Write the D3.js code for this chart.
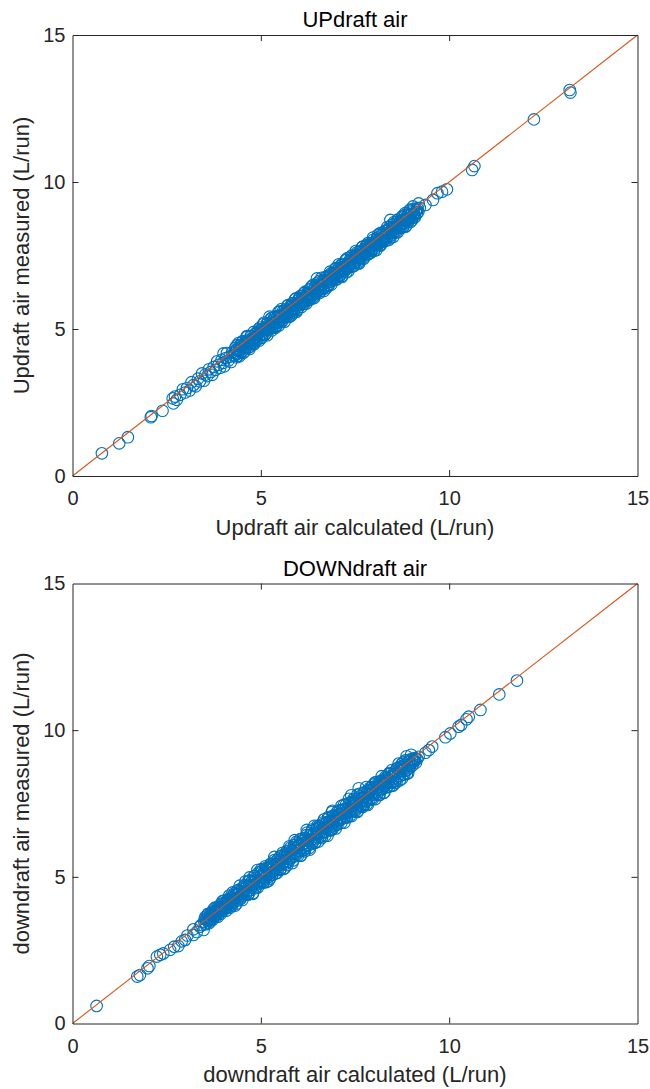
<!DOCTYPE html>
<html>
<head>
<meta charset="utf-8">
<script src="https://cdn.jsdelivr.net/npm/d3@7"></script>
<style>
  body { margin: 0; background: #fff; }
  text { font-family: "Liberation Sans", Arial, sans-serif; }
</style>
</head>
<body>
<div id="chart"></div>
<script>
// axis setup shared by both panels
var axisDomain = [0, 15];
var axisTicks = [0, 5, 10, 15];
var panelTitles = ["UPdraft air", "DOWNdraft air"];
var xLabels = ["Updraft air calculated (L/run)", "downdraft air calculated (L/run)"];
var yLabels = ["Updraft air measured (L/run)", "downdraft air measured (L/run)"];

// [calculated, measured] per run
var upPoints = [
  [0.78,0.77],[1.24,1.11],[1.47,1.32],[2.08,2.00],[2.10,2.04],[2.39,2.22],[2.66,2.64],[2.68,2.47],[2.72,2.70],[2.77,2.59],
  [2.86,2.76],[2.93,2.95],[2.99,2.84],[3.04,2.99],[3.11,2.91],[3.16,3.19],[3.21,3.09],[3.27,3.05],[3.33,3.31],[3.38,3.22],
  [3.44,3.49],[3.49,3.24],[3.53,3.45],[3.58,3.40],[3.62,3.63],[3.67,3.54],[3.71,3.44],[3.75,3.71],[3.80,3.61],[3.84,3.90],
  [3.88,3.78],[3.92,3.68],[3.96,3.95],[4.00,3.85],[4.03,3.73],[4.07,4.01],[4.10,4.18],[4.14,3.93],[4.17,4.06],[4.21,3.88],
  [4.24,4.21],[4.27,4.10],
  [4.30,4.18],[4.32,4.36],[4.35,4.04],[4.36,4.29],[4.38,4.16],[4.41,4.52],[4.43,4.07],[4.44,4.28],[4.47,4.46],[4.49,4.22],
  [4.51,4.42],[4.52,4.59],[4.55,4.36],[4.57,4.24],[4.58,4.54],[4.61,4.37],[4.63,4.76],[4.64,4.50],[4.67,4.38],[4.69,4.63],
  [4.70,4.32],[4.73,4.75],[4.75,4.58],[4.76,4.51],[4.79,4.69],[4.81,4.90],[4.82,4.48],[4.85,4.65],[4.87,4.84],[4.88,4.60],
  [4.90,4.74],[4.92,4.91],[4.95,4.68],[4.96,4.87],[4.98,5.05],[5.01,4.82],[5.03,4.70],[5.04,5.00],[5.07,4.83],[5.09,5.22],
  [5.11,4.97],[5.12,4.83],[5.15,5.09],[5.17,4.79],[5.18,5.20],[5.21,5.04],[5.23,4.98],[5.24,5.14],[5.27,5.36],[5.29,4.95],
  [5.30,5.10],[5.33,5.30],[5.35,5.07],[5.36,5.24],[5.39,5.43],[5.41,5.10],[5.42,5.35],[5.45,5.23],[5.47,5.58],[5.48,5.12],
  [5.50,5.46],[5.52,5.28],[5.55,5.68],[5.56,5.42],[5.58,5.29],[5.61,5.55],[5.63,5.25],[5.64,5.66],[5.67,5.50],[5.69,5.44],
  [5.71,5.61],[5.72,5.81],[5.75,5.41],[5.77,5.57],[5.78,5.75],[5.81,5.53],[5.83,5.71],[5.84,5.88],[5.87,5.56],[5.89,5.82],
  [5.90,5.68],[5.93,6.04],[5.95,5.59],[5.96,5.80],[5.99,5.98],[6.01,5.74],[6.02,5.93],[6.05,6.12],[6.07,5.88],[6.08,5.75],
  [6.10,6.12],[6.12,5.95],[6.15,5.90],[6.16,6.06],[6.18,6.27],[6.21,5.87],[6.23,6.03],[6.24,6.21],[6.27,5.99],[6.29,6.17],
  [6.31,6.35],[6.32,6.01],[6.35,6.28],[6.37,6.15],[6.38,6.49],[6.41,6.05],[6.43,6.27],[6.44,6.43],[6.47,6.20],[6.49,6.40],
  [6.50,6.57],[6.53,6.34],[6.55,6.22],[6.56,6.52],[6.59,6.35],[6.61,6.74],[6.62,6.48],[6.65,6.36],[6.67,6.61],[6.68,6.30],
  [6.70,6.67],[6.72,6.44],[6.75,6.63],[6.76,6.80],[6.78,6.47],[6.81,6.74],[6.83,6.61],[6.84,6.95],[6.87,6.51],[6.89,6.73],
  [6.91,6.90],[6.92,6.65],[6.95,6.86],[6.97,7.04],[6.98,6.79],[7.01,6.68],[7.03,6.99],[7.04,6.80],[7.07,7.20],[7.09,6.95],
  [7.10,6.81],[7.13,7.07],[7.15,6.77],[7.16,7.18],[7.19,7.02],[7.21,6.96],[7.22,7.12],[7.25,7.34],[7.27,6.93],[7.28,7.08],
  [7.30,7.41],[7.32,6.96],[7.35,7.19],[7.36,7.35],[7.38,7.11],[7.41,7.32],[7.43,7.50],[7.44,7.25],[7.47,7.14],[7.49,7.45],
  [7.51,7.27],[7.52,7.65],[7.55,7.41],[7.57,7.28],[7.58,7.52],[7.61,7.23],[7.63,7.65],[7.64,7.47],[7.67,7.42],[7.69,7.59],
  [7.70,7.79],[7.73,7.39],[7.75,7.55],[7.76,7.73],[7.79,7.51],[7.81,7.69],[7.82,7.86],[7.85,7.54],[7.87,7.80],[7.88,7.66],
  [7.90,7.71],[7.92,7.59],[7.95,7.91],[7.96,7.72],[7.98,8.11],[8.01,7.87],[8.03,7.74],[8.04,7.98],[8.07,7.69],[8.09,8.11],
  [8.11,7.94],[8.12,7.87],[8.15,8.05],[8.17,8.26],[8.18,7.84],[8.21,8.01],[8.23,8.20],[8.24,7.96],[8.27,8.15],[8.29,8.33],
  [8.31,8.00],[8.33,8.26],[8.35,8.13],[8.36,8.47],[8.39,8.03],[8.41,8.25],[8.42,8.41],[8.45,8.18],[8.47,8.38],[8.48,8.55],
  [8.50,8.44],[8.52,8.14],[8.55,8.57],[8.56,8.39],[8.58,8.33],[8.61,8.51],[8.63,8.72],[8.64,8.30],[8.67,8.47],[8.69,8.66],
  [8.71,8.43],[8.72,8.60],[8.75,8.79],[8.77,8.46],[8.78,8.71],[8.81,8.59],[8.83,8.94],[8.84,8.48],[8.87,8.71],[8.89,8.88],
  [8.91,8.64],[8.92,8.83],[8.95,9.02],[8.97,8.78],[8.98,8.65],[9.01,8.97],[9.03,8.79],[9.04,9.17],[9.07,8.93],[9.09,8.80],
  [9.14,9.05],[9.18,8.98],[9.22,9.12],[4.01,4.17],[5.23,5.42],[6.49,6.72],[8.44,8.71],
  [4.31,4.10],[4.34,4.29],[4.36,4.44],[4.39,4.09],[4.41,4.27],[4.44,4.44],[4.46,4.20],[4.49,4.38],[4.51,4.56],[4.54,4.19],
  [4.56,4.38],[4.59,4.57],[4.61,4.37],[4.64,4.74],[4.66,4.58],[4.69,4.38],[4.71,4.55],[4.74,4.77],[4.76,4.54],[4.79,4.67],
  [4.81,4.51],[4.84,4.70],[4.86,4.86],[4.89,4.63],[4.91,4.80],[4.94,4.99],[4.96,4.61],[4.99,4.81],[5.01,4.99],[5.04,4.80],
  [5.06,5.16],[5.09,5.01],[5.11,4.80],[5.14,4.98],[5.16,5.19],[5.19,4.97],[5.21,5.09],[5.24,5.03],[5.26,5.21],[5.29,5.37],
  [5.31,5.05],[5.34,5.23],[5.36,5.41],[5.39,5.04],[5.41,5.23],[5.44,5.42],[5.46,5.22],[5.49,5.59],[5.51,5.43],[5.54,5.23],
  [5.56,5.40],[5.59,5.62],[5.61,5.39],[5.64,5.52],[5.66,5.45],[5.69,5.64],[5.71,5.79],[5.74,5.44],[5.76,5.62],[5.79,5.79],
  [5.81,5.46],[5.84,5.66],[5.86,5.84],[5.89,5.65],[5.91,6.01],[5.94,5.86],[5.96,5.65],[5.99,5.83],[6.01,6.04],[6.04,5.82],
  [6.06,5.94],[6.09,5.88],[6.11,6.06],[6.14,6.22],[6.16,5.86],[6.19,6.05],[6.21,6.21],[6.24,5.98],[6.26,6.15],[6.29,6.34],
  [6.31,6.07],[6.34,6.44],[6.36,6.28],[6.39,6.08],[6.41,6.25],[6.44,6.47],[6.46,6.24],[6.49,6.37],[6.51,6.30],[6.54,6.49],
  [6.56,6.64],[6.59,6.29],[6.61,6.47],[6.64,6.64],[6.66,6.40],[6.69,6.58],[6.71,6.76],[6.74,6.39],[6.76,6.58],[6.79,6.77],
  [6.81,6.50],[6.84,6.68],[6.86,6.89],[6.89,6.67],[6.91,6.79],[6.94,6.73],[6.96,6.91],[6.99,7.07],[7.01,6.71],[7.04,6.90],
  [7.06,7.06],[7.09,6.83],[7.11,7.00],[7.14,7.19],[7.16,6.81],[7.19,7.01],[7.21,7.19],[7.24,7.00],[7.26,7.36],[7.29,7.21],
  [7.31,7.09],[7.34,7.22],[7.36,7.15],[7.39,7.34],[7.41,7.49],[7.44,7.14],[7.46,7.32],[7.49,7.49],[7.51,7.25],[7.54,7.43],
  [7.56,7.61],[7.59,7.24],[7.61,7.43],[7.64,7.62],[7.66,7.42],[7.69,7.79],[7.71,7.63],[7.74,7.43],[7.76,7.60],[7.79,7.82],
  [7.81,7.76],[7.84,7.92],[7.86,7.56],[7.89,7.75],[7.91,7.91],[7.94,7.68],[7.96,7.85],[7.99,8.04],[8.01,7.66],[8.04,7.86],
  [8.06,8.04],[8.09,7.85],[8.11,8.21],[8.14,8.06],[8.16,7.85],[8.19,8.03],[8.21,8.24],[8.24,8.02],[8.26,8.14],[8.29,8.08],
  [8.31,8.17],[8.34,8.34],[8.36,8.10],[8.39,8.28],[8.41,8.46],[8.44,8.09],[8.46,8.28],[8.49,8.47],[8.51,8.27],[8.54,8.64],
  [8.56,8.48],[8.59,8.28],[8.61,8.45],[8.64,8.67],[8.66,8.44],[8.69,8.57],[8.71,8.50],[8.74,8.69],[8.76,8.84],[8.79,8.49],
  [8.81,8.70],[8.84,8.89],[8.86,8.51],[8.89,8.71],[8.91,8.89],[8.94,8.70],[8.96,9.06],[8.99,8.91],[9.01,8.70],[9.04,8.88],
  [9.06,9.09],[9.09,8.87],[9.11,8.99],[9.14,8.93],[9.16,9.11],[9.19,9.27],
  [9.37,9.22],[9.57,9.39],[9.69,9.62],[9.81,9.67],[9.94,9.75],[10.61,10.41],[10.67,10.54],[12.25,12.13],[13.20,13.13],[13.22,13.04]
];

var downPoints = [
  [0.64,0.60],[1.72,1.60],[1.79,1.65],[1.99,1.88],[2.04,1.96],[2.24,2.28],[2.33,2.34],[2.41,2.39],[2.59,2.51],[2.70,2.62],
  [2.81,2.64],[2.90,2.80],[2.99,2.85],[3.05,3.00],[3.21,3.02],[3.21,3.21],[3.30,3.12],[3.38,3.30],[3.42,3.36],[3.48,3.19],
  [3.50,3.47],[3.53,3.64],[3.54,3.38],[3.56,3.60],[3.59,3.50],[3.60,3.74],[3.62,3.42],[3.65,3.60],[3.66,3.73],[3.68,3.55],
  [3.71,3.72],[3.72,3.54],[3.74,3.83],[3.77,3.70],[3.78,3.95],[3.80,3.69],[3.83,3.82],[3.84,3.89],[3.86,3.64],[3.89,3.85],
  [3.90,4.02],[3.92,3.78],[3.95,3.97],[3.96,3.88],[3.98,4.17],[4.01,3.84],[4.02,3.96],[4.04,4.12],[4.07,3.95],[4.08,4.11],
  [4.10,4.03],[4.13,4.23],[4.14,3.97],[4.16,4.17],[4.19,3.95],[4.20,4.32],[4.22,4.12],[4.25,4.47],[4.26,4.12],[4.28,4.26],
  [4.31,4.38],[4.32,4.02],[4.34,4.28],[4.37,4.53],[4.38,4.19],[4.40,4.42],[4.43,4.32],[4.44,4.70],[4.46,4.24],[4.49,4.41],
  [4.50,4.61],[4.52,4.36],[4.55,4.59],[4.56,4.52],[4.58,4.72],[4.61,4.40],[4.62,4.67],[4.64,4.52],[4.67,4.86],[4.68,4.42],
  [4.70,4.98],[4.73,4.55],[4.74,4.72],[4.76,4.85],[4.79,4.42],[4.80,4.73],[4.82,5.02],[4.85,4.61],[4.86,4.89],[4.88,4.74],
  [4.91,5.23],[4.92,4.64],[4.94,4.84],[4.97,5.11],[4.98,4.78],[5.00,5.05],[5.03,4.98],[5.04,5.22],[5.06,4.80],[5.09,5.15],
  [5.10,4.95],[5.12,5.36],[5.15,4.82],[5.16,5.07],[5.18,5.30],[5.21,5.00],[5.22,5.23],[5.24,4.94],[5.27,5.42],[5.28,5.16],
  [5.30,5.06],[5.33,5.36],[5.34,5.20],[5.36,5.68],[5.39,5.11],[5.40,5.30],[5.42,5.56],[5.45,5.25],[5.46,5.51],[5.48,5.43],
  [5.51,5.69],[5.52,5.26],[5.54,5.60],[5.57,5.42],[5.58,5.82],[5.60,5.27],[5.63,5.54],[5.64,5.76],[5.66,5.45],[5.69,5.70],
  [5.70,5.40],[5.72,5.87],[5.75,5.63],[5.76,6.04],[5.78,5.60],[5.81,5.79],[5.82,5.91],[5.84,5.47],[5.87,5.80],[5.88,6.08],
  [5.90,5.70],[5.93,5.98],[5.94,5.89],[5.96,6.14],[5.99,5.73],[6.00,6.06],[6.02,5.87],[6.05,6.29],[6.06,5.73],[6.08,5.99],
  [6.11,6.23],[6.12,5.91],[6.14,6.15],[6.17,5.87],[6.18,6.33],[6.20,6.08],[6.23,6.51],[6.24,6.06],[6.26,6.24],[6.29,6.38],
  [6.30,5.93],[6.32,6.25],[6.35,6.55],[6.36,6.12],[6.38,6.41],[6.41,6.27],[6.42,6.74],[6.44,6.16],[6.47,6.37],[6.48,6.62],
  [6.50,6.74],[6.53,6.20],[6.54,6.45],[6.56,6.68],[6.59,6.38],[6.60,6.61],[6.62,6.32],[6.65,6.80],[6.66,6.54],[6.68,6.96],
  [6.71,6.53],[6.72,6.70],[6.74,6.83],[6.77,6.40],[6.78,6.71],[6.80,7.00],[6.83,6.59],[6.84,6.87],[6.86,6.72],[6.89,7.21],
  [6.90,6.62],[6.92,6.82],[6.95,7.09],[6.96,6.76],[6.98,7.03],[7.01,6.96],[7.02,7.20],[7.04,6.78],[7.07,7.13],[7.08,6.93],
  [7.10,7.25],[7.13,7.01],[7.14,7.42],[7.16,6.98],[7.19,7.17],[7.20,7.29],[7.22,6.85],[7.25,7.18],[7.26,7.46],[7.28,7.04],
  [7.31,7.34],[7.32,7.18],[7.34,7.66],[7.37,7.09],[7.38,7.28],[7.40,7.54],[7.43,7.23],[7.44,7.49],[7.46,7.41],[7.49,7.67],
  [7.50,7.24],[7.52,7.58],[7.55,7.40],[7.56,7.80],[7.58,7.25],[7.61,7.52],[7.62,7.74],[7.64,7.43],[7.67,7.68],[7.68,7.38],
  [7.70,7.57],[7.73,7.87],[7.74,7.44],[7.76,7.73],[7.79,7.59],[7.80,8.06],[7.82,7.48],[7.85,7.69],[7.86,7.94],[7.88,7.62],
  [7.91,7.90],[7.92,7.81],[7.94,8.06],[7.97,7.65],[7.98,7.98],[8.00,7.79],[8.03,8.21],[8.04,7.65],[8.06,7.91],[8.09,8.15],
  [8.10,7.83],[8.12,8.07],[8.15,7.79],[8.16,8.25],[8.18,8.00],[8.21,8.43],[8.22,7.98],[8.24,8.16],[8.27,8.30],[8.28,7.88],
  [8.30,8.12],[8.33,8.39],[8.34,8.06],[8.36,8.33],[8.39,8.26],[8.40,8.50],[8.42,8.08],[8.45,8.43],[8.46,8.23],[8.48,8.64],
  [8.51,8.11],[8.52,8.35],[8.54,8.58],[8.57,8.28],[8.58,8.51],[8.60,8.22],[8.63,8.70],[8.64,8.44],[8.66,8.86],[8.69,8.43],
  [8.70,8.60],[8.72,8.73],[8.75,8.35],[8.76,8.61],[8.78,8.90],[8.81,8.49],[8.82,8.77],[8.84,8.62],[8.87,9.11],[8.88,8.52],
  [8.90,8.78],[8.93,8.92],[8.95,8.70],[8.98,8.85],[9.01,9.02],[9.03,8.80],[9.06,8.94],[9.09,9.05],[9.12,8.90],[9.15,9.02],
  [5.90,6.25],[6.22,6.60],[6.90,7.25],[7.40,7.78],[7.60,8.02],
  [3.51,3.57],[3.54,3.41],[3.56,3.54],[3.59,3.72],[3.61,3.52],[3.64,3.65],[3.66,3.48],[3.69,3.77],[3.71,3.66],[3.74,3.89],
  [3.76,3.65],[3.79,3.83],[3.81,3.65],[3.84,3.83],[3.86,3.96],[3.89,3.82],[3.91,3.96],[3.94,3.74],[3.96,3.96],[3.99,4.10],
  [4.01,4.18],[4.04,3.92],[4.06,4.08],[4.09,3.85],[4.11,4.21],[4.14,4.07],[4.16,4.36],[4.19,4.04],[4.21,4.26],[4.24,4.02],
  [4.26,4.25],[4.29,4.43],[4.31,4.21],[4.34,4.40],[4.36,4.09],[4.39,4.39],[4.41,4.56],[4.44,4.52],[4.46,4.28],[4.49,4.46],
  [4.51,4.21],[4.54,4.67],[4.56,4.47],[4.59,4.84],[4.61,4.42],[4.64,4.70],[4.66,4.39],[4.69,4.68],[4.71,4.88],[4.74,4.62],
  [4.76,4.84],[4.79,4.45],[4.81,4.81],[4.84,5.03],[4.86,4.96],[4.89,4.67],[4.91,4.87],[4.94,5.15],[4.96,4.81],[4.99,5.01],
  [5.01,5.26],[5.04,4.85],[5.06,5.12],[5.09,4.82],[5.11,5.10],[5.14,5.31],[5.16,5.04],[5.19,5.27],[5.21,4.87],[5.24,5.24],
  [5.26,5.45],[5.29,5.39],[5.31,5.09],[5.34,5.30],[5.36,5.57],[5.39,5.24],[5.41,5.43],[5.44,5.14],[5.46,5.59],[5.49,5.40],
  [5.51,5.24],[5.54,5.53],[5.56,5.73],[5.59,5.47],[5.61,5.69],[5.64,5.30],[5.66,5.66],[5.69,5.88],[5.71,5.81],[5.74,5.52],
  [5.76,5.72],[5.79,6.00],[5.81,5.66],[5.84,5.86],[5.86,5.56],[5.89,6.02],[5.91,5.82],[5.94,6.19],[5.96,5.77],[5.99,6.05],
  [6.01,5.89],[6.04,6.12],[6.06,5.72],[6.09,6.09],[6.11,6.30],[6.14,6.24],[6.16,5.94],[6.19,6.15],[6.21,6.42],[6.24,6.09],
  [6.26,6.28],[6.29,5.99],[6.31,6.44],[6.34,6.25],[6.36,6.61],[6.39,6.20],[6.41,6.47],[6.44,6.17],[6.46,6.45],[6.49,6.66],
  [6.51,6.51],[6.54,6.73],[6.56,6.66],[6.59,6.37],[6.61,6.57],[6.64,6.85],[6.66,6.51],[6.69,6.71],[6.71,6.41],[6.74,6.87],
  [6.76,6.67],[6.79,7.04],[6.81,6.62],[6.84,6.90],[6.86,6.59],[6.89,6.88],[6.91,7.08],[6.94,6.82],[6.96,7.04],[6.99,6.65],
  [7.01,6.79],[7.04,7.00],[7.06,7.27],[7.09,6.94],[7.11,7.13],[7.14,6.84],[7.16,7.29],[7.19,7.10],[7.21,7.46],[7.24,7.05],
  [7.26,7.32],[7.29,7.02],[7.31,7.30],[7.34,7.51],[7.36,7.24],[7.39,7.47],[7.41,7.07],[7.44,7.44],[7.46,7.65],[7.49,7.59],
  [7.51,7.31],[7.54,7.51],[7.56,7.21],[7.59,7.67],[7.61,7.47],[7.64,7.84],[7.66,7.42],[7.69,7.70],[7.71,7.39],[7.74,7.68],
  [7.76,7.88],[7.79,7.62],[7.81,7.84],[7.84,7.45],[7.86,7.81],[7.89,8.03],[7.91,7.96],[7.94,7.67],[7.96,7.87],[7.99,8.15],
  [8.01,8.06],[8.04,7.87],[8.06,8.23],[8.09,7.82],[8.11,8.09],[8.14,7.79],[8.16,8.07],[8.19,8.28],[8.21,8.01],[8.24,8.24],
  [8.26,7.86],[8.29,8.21],[8.31,8.42],[8.34,8.36],[8.36,8.06],[8.39,8.27],[8.41,8.54],[8.44,8.21],[8.46,8.40],[8.49,8.11],
  [8.51,8.24],[8.54,8.52],[8.56,8.21],[8.59,8.50],[8.61,8.70],[8.64,8.44],[8.66,8.66],[8.69,8.29],[8.71,8.63],[8.74,8.85],
  [8.76,8.78],[8.79,8.49],[8.81,8.69],[8.84,8.97],[8.86,8.63],[8.89,8.83],[8.91,8.53],[8.94,8.99],[8.96,8.79],[8.99,9.16],
  [9.01,8.88],[9.04,8.96],[9.06,9.00],[9.09,8.95],
  [9.19,9.09],[9.37,9.23],[9.46,9.32],[9.55,9.44],[9.90,9.76],[10.03,9.89],[10.25,10.12],[10.32,10.18],[10.46,10.37],
  [10.52,10.46],[10.83,10.69],[11.33,11.22],[11.80,11.69]
];

var width = 650, height = 1089;
var axisColor = "#262626";

var svg = d3.select("#chart").append("svg")
    .attr("width", width)
    .attr("height", height);

svg.append("rect")
    .attr("width", width)
    .attr("height", height)
    .attr("fill", "#fff");

var panels = [
    { top: 35, bottom: 476, points: upPoints },
    { top: 583.5, bottom: 1023.5, points: downPoints }
];

panels.forEach(function (p, i) {
    var left = 72.5, right = 637.5;

    var x = d3.scaleLinear().domain(axisDomain).range([left, right]);
    var y = d3.scaleLinear().domain(axisDomain).range([p.bottom, p.top]);

    var g = svg.append("g");

    // markers
    g.append("g").selectAll("circle")
        .data(p.points)
        .enter().append("circle")
        .attr("cx", function (d) { return x(d[0]); })
        .attr("cy", function (d) { return y(d[1]); })
        .attr("r", 5.8)
        .attr("fill", "none")
        .attr("stroke", "#0072BD")
        .attr("stroke-width", 1.1);

    // 1:1 line on top
    g.append("line")
        .attr("x1", x(axisDomain[0]))
        .attr("y1", y(axisDomain[0]))
        .attr("x2", x(axisDomain[1]))
        .attr("y2", y(axisDomain[1]))
        .attr("stroke", "#D95319")
        .attr("stroke-width", 1.1);

    // axes, ticks point inward
    var bottomAxis = g.append("g")
        .attr("transform", "translate(0," + p.bottom + ")")
        .call(d3.axisBottom(x).tickValues(axisTicks).tickSize(-6).tickSizeOuter(0).tickPadding(15));
    var topAxis = g.append("g")
        .attr("transform", "translate(0," + p.top + ")")
        .call(d3.axisTop(x).tickValues(axisTicks).tickSize(-6).tickSizeOuter(0).tickFormat(""));
    var leftAxis = g.append("g")
        .attr("transform", "translate(" + left + ",0)")
        .call(d3.axisLeft(y).tickValues(axisTicks).tickSize(-6).tickSizeOuter(0).tickPadding(7));
    var rightAxis = g.append("g")
        .attr("transform", "translate(" + right + ",0)")
        .call(d3.axisRight(y).tickValues(axisTicks).tickSize(-6).tickSizeOuter(0).tickFormat(""));

    [bottomAxis, topAxis, leftAxis, rightAxis].forEach(function (a) {
        a.select(".domain").attr("stroke", axisColor).attr("stroke-width", 1);
        a.selectAll(".tick line").attr("stroke", axisColor).attr("stroke-width", 1);
        a.selectAll(".tick text")
            .attr("fill", axisColor)
            .style("font-size", "20px")
            .style("font-family", "'Liberation Sans', Arial, sans-serif");
        // end ticks sit on the frame
        a.selectAll(".tick line").filter(function (d) { return d === 0 || d === 15; }).remove();
    });

    g.append("text")
        .attr("x", (left + right) / 2)
        .attr("y", p.top - 8)
        .attr("text-anchor", "middle")
        .attr("font-size", "22px")
        .attr("fill", "#000")
        .text(panelTitles[i]);

    g.append("text")
        .attr("x", (left + right) / 2)
        .attr("y", p.bottom + 58.5)
        .attr("text-anchor", "middle")
        .attr("font-size", "22px")
        .attr("fill", axisColor)
        .text(xLabels[i]);

    g.append("text")
        .attr("transform", "translate(29," + (p.top + p.bottom) / 2 + ") rotate(-90)")
        .attr("text-anchor", "middle")
        .attr("font-size", "22px")
        .attr("fill", axisColor)
        .text(yLabels[i]);
});
</script>
</body>
</html>
